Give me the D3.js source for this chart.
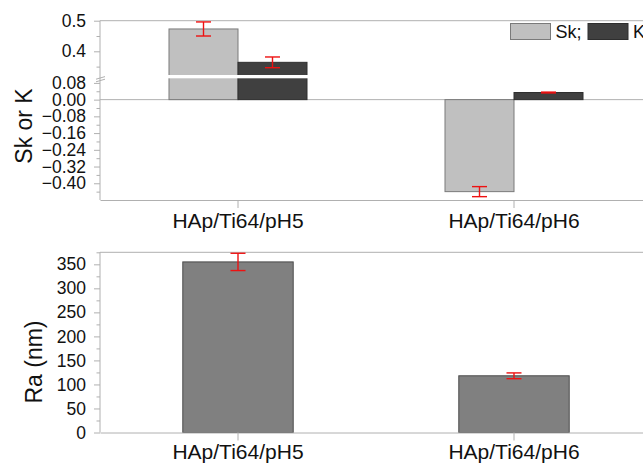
<!DOCTYPE html>
<html>
<head>
<meta charset="utf-8">
<script src="https://cdn.jsdelivr.net/npm/d3@7"></script>
<style>
  body { margin: 0; background: #fff; }
  svg { font-family: "Liberation Sans", Arial, sans-serif; }
  .axis path, .axis line { stroke: #b0b0b0; }
  .axis text { fill: #111; }
</style>
</head>
<body>
<div id="chart"></div>
<script>
// data
var categories = ["HAp/Ti64/pH5", "HAp/Ti64/pH6"];
var skValues = [0.473, -0.440];
var skErrors = [0.023, 0.024];
var kValues = [0.364, 0.034];
var kErrors = [0.0175, 0.002];
var raValues = [355, 118];
var raErrors = [18, 6];
var upperTicks = [0.4, 0.5];
var upperMinor = [0.35, 0.45];
var lowerTicks = [-0.40, -0.32, -0.24, -0.16, -0.08, 0.00, 0.08];
var lowerMinor = [-0.44, -0.36, -0.28, -0.20, -0.12, -0.04, 0.04];
var raTicks = [0, 50, 100, 150, 200, 250, 300, 350];
var raMinor = [25, 75, 125, 175, 225, 275, 325, 375];

var width = 643;
var height = 466;
var axisColor = "#b0b0b0";
var capHalf = 7.5;

var svg = d3
  .select("#chart")
  .append("svg")
  .attr("width", width)
  .attr("height", height);

var x = d3.scaleBand().domain(categories).range([100, 652]).padding(0);

// ---------- top panel (Sk / K with broken axis) ----------
var topY = 20.7;
var botY = 200;
var breakTop = 75;
var breakBot = 78.3;
var yUpper = d3.scaleLinear().domain([0.3226, 0.5]).range([breakTop, topY]);
var yLower = d3.scaleLinear().domain([-0.48, 0.102]).range([botY, breakBot]);
var lowerMax = yLower.domain()[1];

function yOf(v) {
  return v > lowerMax ? yUpper(v) : yLower(v);
}

// frame lines
svg.append("line")
  .attr("x1", 100).attr("x2", width).attr("y1", topY).attr("y2", topY)
  .attr("stroke", axisColor);
svg.append("line")
  .attr("x1", 100).attr("x2", width).attr("y1", yLower(0)).attr("y2", yLower(0))
  .attr("stroke", axisColor);

var series = [
  { key: "Sk", values: skValues, errors: skErrors, fill: "#c0c0c0", stroke: "#7a7a7a", offset: 0.25 },
  { key: "K", values: kValues, errors: kErrors, fill: "#404040", stroke: "#2e2e2e", offset: 0.5 }
];
var barW = x.bandwidth() * 0.25;

series.forEach(function(s) {
  svg.selectAll(".bar" + s.key)
    .data(s.values)
    .enter()
    .append("rect")
    .attr("class", "bar" + s.key)
    .attr("x", function(d, i) { return x(categories[i]) + x.bandwidth() * s.offset; })
    .attr("width", barW)
    .attr("y", function(d) { return Math.min(yOf(d), yLower(0)); })
    .attr("height", function(d) { return Math.abs(yLower(0) - yOf(d)); })
    .attr("fill", s.fill)
    .attr("stroke", s.stroke);
});

// white gap through the bars at the break
svg.append("rect")
  .attr("x", 101).attr("width", width)
  .attr("y", breakTop).attr("height", breakBot - breakTop)
  .attr("fill", "#fff");

// error bars top
series.forEach(function(s) {
  categories.forEach(function(c, i) {
    var cx = x(c) + x.bandwidth() * s.offset + barW / 2;
    var hi = yOf(s.values[i] + s.errors[i]);
    var lo = yOf(s.values[i] - s.errors[i]);
    drawErr(cx, hi, lo);
  });
});

function drawErr(cx, hi, lo) {
  var g = svg.append("g").attr("stroke", "#ee1111").attr("stroke-width", 1.4);
  g.append("line").attr("x1", cx).attr("x2", cx).attr("y1", hi).attr("y2", lo);
  g.append("line").attr("x1", cx - capHalf).attr("x2", cx + capHalf).attr("y1", hi).attr("y2", hi);
  g.append("line").attr("x1", cx - capHalf).attr("x2", cx + capHalf).attr("y1", lo).attr("y2", lo);
}

// left axis pieces
function leftAxis(scale, ticks, minor, fmt, gap) {
  svg.append("g")
    .attr("class", "axis")
    .attr("transform", "translate(100,0)")
    .call(d3.axisLeft(scale).tickValues(ticks).tickSize(6).tickPadding(gap).tickFormat(fmt))
    .call(function(g) { g.select(".domain").remove(); })
    .selectAll("text").attr("font-size", 17.5);
  svg.append("g")
    .attr("class", "axis")
    .attr("transform", "translate(100,0)")
    .call(d3.axisLeft(scale).tickValues(minor).tickSize(3.5).tickFormat(""))
    .call(function(g) { g.select(".domain").remove(); });
}
leftAxis(yUpper, upperTicks, upperMinor, d3.format(".1f"), 8);
leftAxis(yLower, lowerTicks, lowerMinor, d3.format(".2f"), 8);
svg.append("line")
  .attr("x1", 100).attr("x2", 100).attr("y1", topY).attr("y2", botY)
  .attr("stroke", axisColor);
// break marks on axis
svg.append("line").attr("x1", 96).attr("y1", 79.2).attr("x2", 105).attr("y2", 76.6).attr("stroke", axisColor);
svg.append("line").attr("x1", 96).attr("y1", 81.8).attr("x2", 105).attr("y2", 79.2).attr("stroke", axisColor);

// bottom axis top panel
svg.append("g")
  .attr("class", "axis")
  .attr("transform", "translate(0," + botY + ")")
  .call(d3.axisBottom(x).tickSize(8).tickSizeOuter(0).tickPadding(5))
  .selectAll("text").attr("font-size", 21);

svg.append("text")
  .attr("transform", "translate(31.5,126)rotate(-90)")
  .attr("text-anchor", "middle")
  .attr("font-size", 23)
  .attr("fill", "#111")
  .text("Sk or K");

// legend
var legend = [
  { label: "Sk;", fill: "#c0c0c0", stroke: "#7a7a7a", x: 510.5 },
  { label: "K", fill: "#404040", stroke: "#2e2e2e", x: 588 }
];
legend.forEach(function(l) {
  svg.append("rect")
    .attr("x", l.x).attr("y", 23.5).attr("width", 40).attr("height", 16)
    .attr("fill", l.fill).attr("stroke", l.stroke);
  svg.append("text")
    .attr("x", l.x + 45).attr("y", 37.8)
    .attr("font-size", 18)
    .attr("fill", "#111")
    .text(l.label);
});

// ---------- bottom panel (Ra) ----------
var raTop = 252.3;
var raBot = 432.5;
var yRa = d3.scaleLinear().domain([0, 375]).range([raBot, raTop]);
var raW = x.bandwidth() * 0.4;

svg.append("line")
  .attr("x1", 100).attr("x2", width).attr("y1", raTop).attr("y2", raTop)
  .attr("stroke", axisColor);

svg.selectAll(".raBar")
  .data(raValues)
  .enter()
  .append("rect")
  .attr("class", "raBar")
  .attr("x", function(d, i) { return x(categories[i]) + (x.bandwidth() - raW) / 2; })
  .attr("width", raW)
  .attr("y", function(d) { return yRa(d); })
  .attr("height", function(d) { return yRa(0) - yRa(d); })
  .attr("fill", "#808080")
  .attr("stroke", "#4a4a4a");

raValues.forEach(function(v, i) {
  var cx = x(categories[i]) + x.bandwidth() / 2;
  drawErr(cx, yRa(v + raErrors[i]), yRa(v - raErrors[i]));
});

svg.append("g")
  .attr("class", "axis")
  .attr("transform", "translate(100,0)")
  .call(d3.axisLeft(yRa).tickValues(raTicks).tickSize(6).tickPadding(8).tickFormat(d3.format("d")))
  .call(function(g) { g.select(".domain").remove(); })
  .selectAll("text").attr("font-size", 17.5);
svg.append("g")
  .attr("class", "axis")
  .attr("transform", "translate(100,0)")
  .call(d3.axisLeft(yRa).tickValues(raMinor).tickSize(3.5).tickFormat(""))
  .call(function(g) { g.select(".domain").remove(); });
svg.append("line")
  .attr("x1", 100).attr("x2", 100).attr("y1", raTop).attr("y2", raBot)
  .attr("stroke", axisColor);

svg.append("g")
  .attr("class", "axis")
  .attr("transform", "translate(0," + raBot + ")")
  .call(d3.axisBottom(x).tickSize(8).tickSizeOuter(0).tickPadding(4))
  .selectAll("text").attr("font-size", 21);

svg.append("text")
  .attr("transform", "translate(41.5,362)rotate(-90)")
  .attr("text-anchor", "middle")
  .attr("font-size", 23)
  .attr("fill", "#111")
  .text("Ra (nm)");
</script>
</body>
</html>
